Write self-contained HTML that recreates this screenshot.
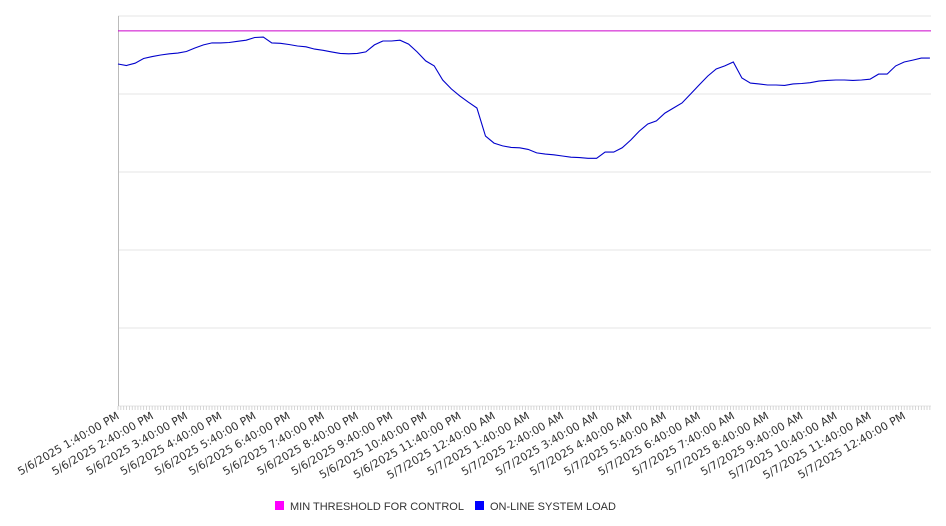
<!DOCTYPE html>
<html><head><meta charset="utf-8"><style>
html,body{margin:0;padding:0;background:#fff;}
svg{display:block;font-family:"Liberation Sans","DejaVu Sans",sans-serif;}
</style></head><body>
<svg id="chart" width="946" height="526" xmlns="http://www.w3.org/2000/svg">
<g id="grid"></g>
<g id="xaxis"></g>
<g id="series"></g>
<g>
<g>
<rect x="275" y="501" width="9" height="9" fill="#ff00ff"/>
<text x="290" y="510" font-size="11" fill="#333">MIN THRESHOLD FOR CONTROL</text></g>
<g>
<rect x="475" y="501" width="9" height="9" fill="#0000ff"/>
<text x="490" y="510" font-size="11" fill="#333">ON-LINE SYSTEM LOAD</text></g>
</g>
</svg>
<script>
const tickLabels=["5/6/2025 1:40:00 PM","5/6/2025 2:40:00 PM","5/6/2025 3:40:00 PM","5/6/2025 4:40:00 PM","5/6/2025 5:40:00 PM","5/6/2025 6:40:00 PM","5/6/2025 7:40:00 PM","5/6/2025 8:40:00 PM","5/6/2025 9:40:00 PM","5/6/2025 10:40:00 PM","5/6/2025 11:40:00 PM","5/7/2025 12:40:00 AM","5/7/2025 1:40:00 AM","5/7/2025 2:40:00 AM","5/7/2025 3:40:00 AM","5/7/2025 4:40:00 AM","5/7/2025 5:40:00 AM","5/7/2025 6:40:00 AM","5/7/2025 7:40:00 AM","5/7/2025 8:40:00 AM","5/7/2025 9:40:00 AM","5/7/2025 10:40:00 AM","5/7/2025 11:40:00 AM","5/7/2025 12:40:00 PM"];
const threshold=96.2;
const load=[87.7,87.3,87.9,89.1,89.6,90.0,90.3,90.5,90.9,91.8,92.6,93.1,93.1,93.2,93.5,93.8,94.5,94.6,93.1,93.0,92.7,92.3,92.1,91.5,91.2,90.8,90.4,90.3,90.4,90.8,92.6,93.6,93.6,93.8,92.8,90.8,88.5,87.2,83.6,81.3,79.5,77.9,76.4,69.2,67.4,66.7,66.3,66.2,65.8,64.9,64.6,64.4,64.1,63.8,63.7,63.5,63.5,65.1,65.1,66.2,68.2,70.5,72.3,73.1,75.1,76.4,77.7,80.0,82.3,84.6,86.4,87.2,88.2,84.1,82.8,82.6,82.3,82.3,82.2,82.6,82.7,82.9,83.3,83.5,83.6,83.6,83.5,83.6,83.8,85.1,85.1,87.2,88.2,88.7,89.2,89.2];
const yTicks=[0,20,40,60,80,100];
const NS="http://www.w3.org/2000/svg";
const L=118,R=931,T=16,B=406;
const minutesPerPoint=15, minutesTotal=(load.length-1)*minutesPerPoint;
const pxPerMin=(R-L)/(minutesTotal+2);
function xMin(m){return L+m*pxPerMin;}
function y(v){return B-(v/100)*(B-T);}
function mk(tag,attrs,parent){const e=document.createElementNS(NS,tag);for(const k in attrs)e.setAttribute(k,attrs[k]);parent.appendChild(e);return e;}
const grid=document.getElementById('grid');
yTicks.forEach(t=>{
 const l=mk('line',{x1:L,x2:R,y1:y(t),y2:y(t),stroke:'#e6e6e6','stroke-width':1},grid);
 
 
});
const ax=document.getElementById('xaxis');
const yl=mk('line',{x1:L+0.5,x2:L+0.5,y1:T,y2:B,stroke:'#bbb'},ax);


for(let m=0;m<=minutesTotal+2;m+=5){
 const t=mk('line',{x1:xMin(m),x2:xMin(m),y1:B,y2:B+4,stroke:'#ccc','stroke-width':0.8},ax);
 
 
}
tickLabels.forEach((s,i)=>{
 const x=xMin(i*60)+2;
 const tx=mk('text',{x:x,y:B+12,'font-size':11,'font-family':'"DejaVu Sans",sans-serif',fill:'#333','text-anchor':'end',transform:`rotate(-30 ${x} ${B+12})`},ax);
 tx.textContent=s;
 
 
});
const ser=document.getElementById('series');
const th=mk('line',{x1:L,x2:R,y1:y(threshold),y2:y(threshold),stroke:'#cc00cc','stroke-width':1},ser);


const pts=load.map((v,i)=>xMin(i*minutesPerPoint).toFixed(1)+','+y(v).toFixed(1)).join(' ');
const pl=mk('polyline',{points:pts,fill:'none',stroke:'#0000cc','stroke-width':1.1},ser);


</script>
</body></html>
